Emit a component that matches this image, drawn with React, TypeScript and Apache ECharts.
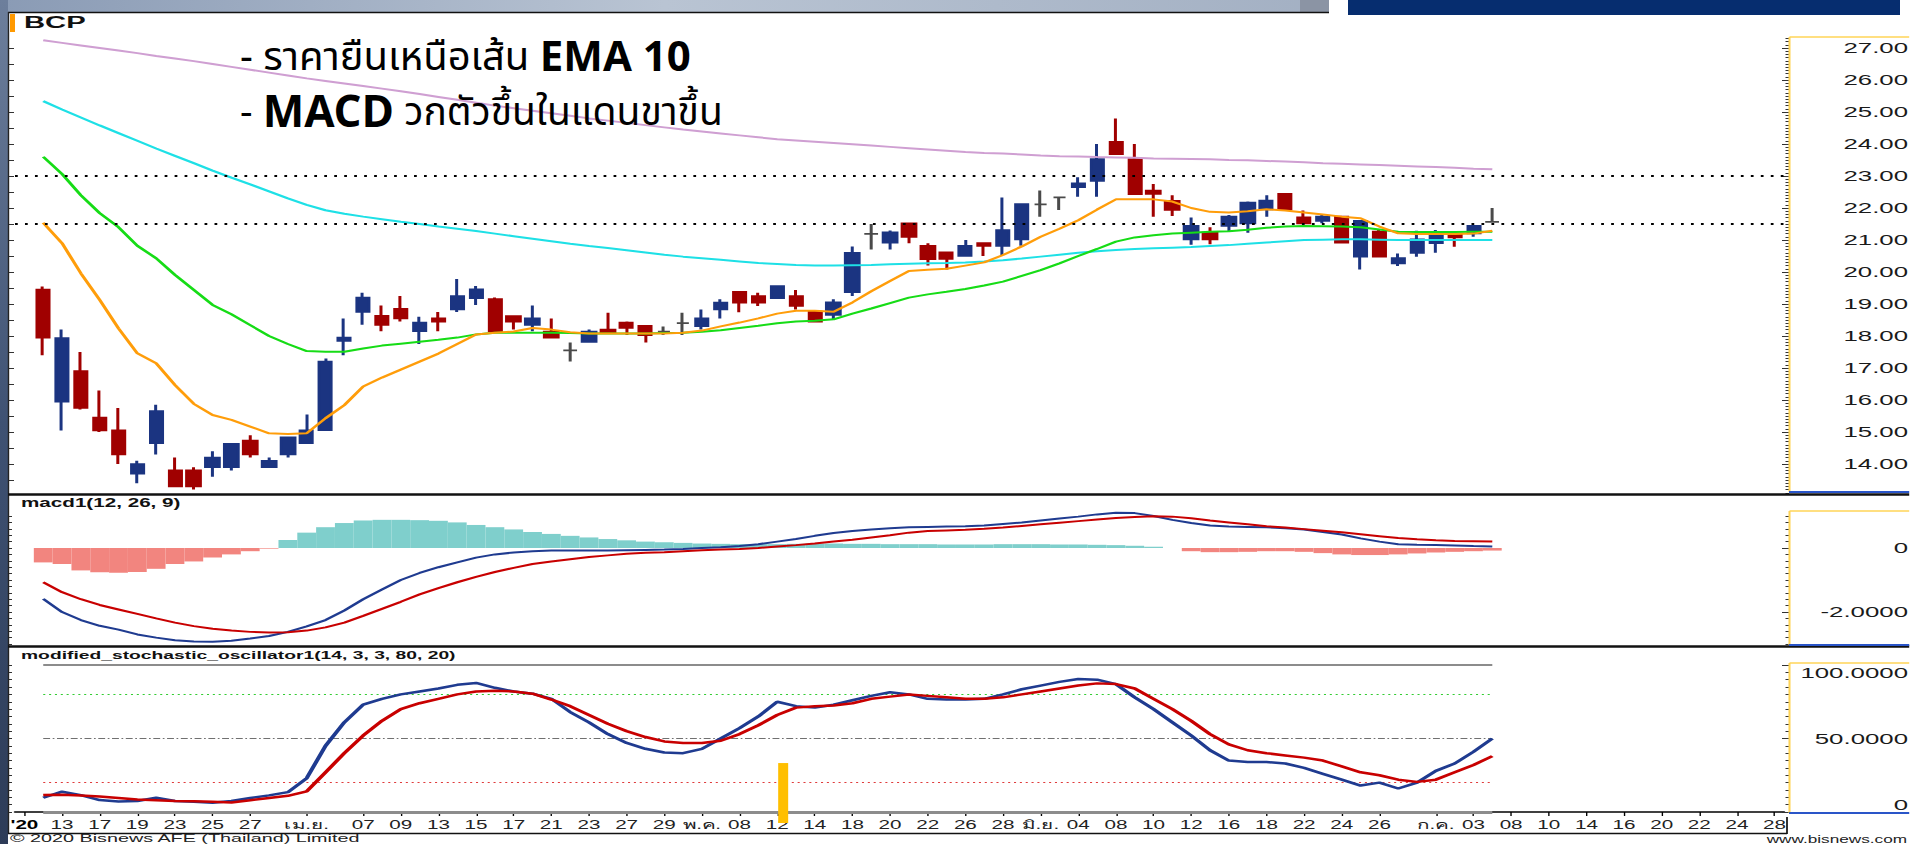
import React, { useEffect, useRef } from 'react';
import * as echarts from 'echarts';

// The reference screenshot is horizontally stretched; the chart is drawn narrow then stretched by S.
const S = 1.72;
const FULL_W = 1910;
const FULL_H = 844;
const CW = FULL_W / S;
const X = (v: number) => v / S;
const FONT = "'Liberation Sans', Arial, sans-serif";
const THAI_FONT = "'Noto Sans Thai', 'Noto Sans', 'Leelawadee UI', sans-serif";

// trading days on the axis (Mar 11 .. Jul 28, 2020)
const dates = [
  '03-11','03-12','03-13','03-16','03-17','03-18','03-19','03-20','03-23','03-24','03-25','03-26','03-27','03-30','03-31',
  '04-01','04-02','04-03','04-07','04-08','04-09','04-10','04-13','04-14','04-15','04-16','04-17','04-20','04-21','04-22','04-23','04-24','04-27','04-28','04-29','04-30',
  '05-05','05-07','05-08','05-11','05-12','05-13','05-14','05-15','05-18','05-19','05-20','05-21','05-22','05-25','05-26','05-27','05-28','05-29',
  '06-01','06-02','06-04','06-05','06-08','06-09','06-10','06-11','06-12','06-15','06-16','06-17','06-18','06-19','06-22','06-23','06-24','06-25','06-26','06-29','06-30',
  '07-01','07-02','07-03','07-07','07-08','07-09','07-10','07-13','07-14','07-15','07-16','07-17','07-20','07-21','07-22','07-23','07-24','07-27','07-28'
];
const xTickLabels = [
  "'20",'','13','','17','','19','','23','','25','','27','','',
  'เม.ย.','','','07','','09','','13','','15','','17','','21','','23','','27','','29','',
  'พ.ค.','','08','','12','','14','','18','','20','','22','','26','','28','',
  'มิ.ย.','','04','','08','','10','','12','','16','','18','','22','','24','','26','','',
  'ก.ค.','','03','','08','','10','','14','','16','','20','','22','','24','','28'
];

// [open, close, low, high] for Mar 12 .. Jul 7
const candles = [
  [19.45,17.95,17.4,19.55],[15.95,17.93,15.05,18.2],[16.9,15.75,15.7,17.5],[15.45,15.05,15.0,16.3],[15.05,14.3,14.0,15.75],
  [13.7,14.0,13.4,14.1],[14.65,15.65,14.3,15.85],[13.8,13.3,13.3,14.2],[13.8,13.3,13.2,13.9],[13.9,14.2,13.6,14.4],
  [13.9,14.63,13.8,14.65],[14.73,14.3,14.2,14.9],[13.9,14.1,13.9,14.2],[14.3,14.83,14.2,14.85],[14.65,15.05,14.65,15.55],
  [15.06,17.2,15.05,17.3],[17.85,17.95,17.4,18.55],[18.75,19.2,18.35,19.35],[18.63,18.35,18.15,18.95],[18.85,18.55,18.45,19.25],
  [18.15,18.42,17.75,18.6],[18.55,18.45,18.15,18.75],[18.83,19.25,18.75,19.78],[19.18,19.46,18.97,19.56],[19.15,18.15,18.13,19.2],
  [18.62,18.45,18.2,18.65],[18.35,18.55,18.15,18.95],[18.14,17.95,17.95,18.55],[17.55,17.55,17.2,17.8],[17.82,18.14,17.82,18.2],
  [18.2,18.12,18.1,18.73],[18.42,18.25,18.03,18.45],[18.32,18.03,17.8,18.33],[18.14,18.14,18.03,18.3],[18.4,18.4,18.03,18.73],
  [18.31,18.55,18.2,18.83],[18.83,19.04,18.55,19.15],[19.38,19.04,18.74,19.4],[19.25,19.04,18.94,19.35],[19.18,19.56,19.17,19.57],
  [19.25,18.94,18.83,19.44],[18.76,18.45,18.45,18.81],[18.66,19.05,18.53,19.15],[19.37,20.6,19.25,20.8],[21.19,21.19,20.7,21.5],
  [20.92,21.24,20.7,21.3],[21.52,21.1,20.9,21.53],[20.82,20.4,20.2,20.9],[20.61,20.41,20.08,20.62],[20.5,20.82,20.5,21.0],
  [20.9,20.82,20.5,20.92],[20.82,21.31,20.53,22.33],[21.02,22.12,20.82,22.13],[22.11,22.11,21.73,22.55],[22.33,22.33,21.94,22.34],
  [22.65,22.77,22.35,22.96],[22.85,23.53,22.35,24.0],[24.07,23.68,23.67,24.8],[23.53,22.43,22.42,24.0],[22.54,22.44,21.73,22.75],
  [22.22,21.94,21.75,22.4],[21.02,21.44,20.85,21.7],[21.23,21.02,20.87,21.4],[21.44,21.73,21.26,21.78],[21.52,22.17,21.23,22.2],
  [21.96,22.23,21.73,22.4],[22.44,21.96,21.95,22.45],[21.71,21.52,21.52,21.92],[21.6,21.73,21.52,21.8],[21.73,20.92,20.9,21.74],
  [20.48,21.6,20.08,21.61],[21.26,20.48,20.47,21.31],[20.27,20.43,20.19,20.58],[20.6,21.02,20.48,21.29],[20.9,21.19,20.6,21.31],
  [21.19,21.08,20.79,21.2],[21.21,21.44,21.1,21.45],[21.57,21.57,21.57,22.0]
];

const ema10 = [
  21.54,20.9,19.96,19.13,18.24,17.46,17.15,16.47,15.88,15.53,
  15.38,15.17,14.96,14.94,14.96,15.43,15.84,16.42,16.7,16.95,
  17.2,17.45,17.75,18.05,18.1,18.14,18.25,18.2,18.12,18.08,
  18.08,18.08,18.08,18.08,18.1,18.17,18.3,18.42,18.55,18.7,
  18.79,18.79,18.76,19.05,19.4,19.72,20.03,20.07,20.1,20.2,
  20.3,20.53,20.8,21.1,21.35,21.62,21.95,22.27,22.27,22.27,
  22.2,22.0,21.88,21.86,21.9,21.96,21.92,21.86,21.8,21.73,
  21.68,21.42,21.21,21.19,21.19,21.19,21.2,21.29
];
const ema25 = [
  23.6,23.06,22.4,21.84,21.4,20.82,20.43,19.91,19.44,18.97,
  18.68,18.34,18.0,17.75,17.53,17.51,17.51,17.61,17.7,17.76,
  17.82,17.88,17.95,18.05,18.1,18.1,18.1,18.1,18.09,18.08,
  18.08,18.08,18.08,18.09,18.1,18.13,18.18,18.25,18.32,18.4,
  18.45,18.48,18.52,18.7,18.86,19.03,19.2,19.3,19.38,19.47,
  19.58,19.7,19.88,20.06,20.27,20.5,20.72,20.95,21.08,21.15,
  21.2,21.23,21.26,21.27,21.32,21.38,21.42,21.44,21.43,21.42,
  21.4,21.33,21.26,21.25,21.25,21.25,21.26,21.26
];
const ema50 = [
  25.34,25.08,24.83,24.58,24.34,24.1,23.86,23.63,23.4,23.17,
  22.95,22.74,22.52,22.3,22.1,21.93,21.82,21.73,21.65,21.57,
  21.5,21.42,21.35,21.28,21.2,21.12,21.04,20.96,20.88,20.81,
  20.75,20.68,20.61,20.54,20.48,20.43,20.38,20.33,20.28,20.25,
  20.22,20.2,20.2,20.21,20.22,20.24,20.26,20.27,20.28,20.3,
  20.33,20.37,20.42,20.48,20.54,20.6,20.65,20.69,20.72,20.74,
  20.76,20.78,20.81,20.84,20.88,20.92,20.96,21.0,21.01,21.02,
  21.02,21.01,21.0,21.0,21.0,21.0,21.0,21.0
];
const ema200 = [
  27.24,27.16,27.08,27.0,26.92,26.84,26.75,26.67,26.59,26.5,
  26.41,26.32,26.23,26.14,26.05,25.97,25.89,25.81,25.73,25.65,
  25.56,25.47,25.38,25.29,25.2,25.12,25.04,24.96,24.88,24.8,
  24.73,24.66,24.59,24.52,24.45,24.39,24.33,24.27,24.21,24.15,
  24.11,24.07,24.03,23.99,23.95,23.91,23.87,23.83,23.79,23.75,
  23.72,23.7,23.67,23.64,23.62,23.61,23.59,23.58,23.57,23.55,
  23.54,23.53,23.52,23.5,23.49,23.47,23.45,23.43,23.4,23.38,
  23.36,23.34,23.32,23.3,23.28,23.26,23.23,23.21
];
const priceRefLines = [23, 21.5];

const macdLine = [
  -1.59,-2.0,-2.25,-2.43,-2.55,-2.7,-2.8,-2.88,-2.92,-2.93,
  -2.9,-2.83,-2.75,-2.62,-2.45,-2.25,-1.95,-1.6,-1.3,-1.0,
  -0.78,-0.6,-0.45,-0.3,-0.2,-0.14,-0.1,-0.08,-0.08,-0.08,
  -0.08,-0.07,-0.06,-0.05,-0.03,0.0,0.02,0.06,0.12,0.2,
  0.28,0.38,0.47,0.53,0.58,0.62,0.65,0.66,0.67,0.68,
  0.7,0.75,0.8,0.86,0.92,0.98,1.05,1.1,1.09,1.0,
  0.88,0.78,0.7,0.67,0.66,0.65,0.62,0.58,0.5,0.42,
  0.3,0.2,0.12,0.1,0.09,0.08,0.06,0.05
];
const signalLine = [
  -1.07,-1.38,-1.6,-1.78,-1.92,-2.06,-2.2,-2.33,-2.44,-2.52,
  -2.58,-2.62,-2.64,-2.63,-2.58,-2.48,-2.33,-2.12,-1.9,-1.68,
  -1.45,-1.25,-1.07,-0.9,-0.75,-0.62,-0.5,-0.42,-0.35,-0.28,
  -0.23,-0.18,-0.15,-0.13,-0.1,-0.07,-0.05,-0.03,0.0,0.05,
  0.09,0.14,0.2,0.26,0.33,0.4,0.48,0.53,0.55,0.57,
  0.6,0.64,0.69,0.74,0.79,0.84,0.89,0.94,0.97,0.99,
  0.98,0.93,0.86,0.8,0.74,0.68,0.64,0.59,0.54,0.49,
  0.43,0.37,0.31,0.27,0.24,0.22,0.21,0.2
];
const macdHist = [
  -0.45,-0.5,-0.7,-0.76,-0.77,-0.75,-0.65,-0.5,-0.42,-0.3,
  -0.2,-0.1,-0.02,0.25,0.48,0.65,0.78,0.86,0.88,0.88,
  0.87,0.85,0.8,0.72,0.65,0.58,0.5,0.44,0.38,0.33,
  0.28,0.24,0.2,0.18,0.16,0.14,0.13,0.12,0.12,0.12,
  0.13,0.14,0.14,0.13,0.13,0.12,0.12,0.12,0.11,0.11,
  0.11,0.12,0.12,0.12,0.11,0.11,0.1,0.09,0.07,0.04,
  0.0,-0.1,-0.13,-0.13,-0.12,-0.1,-0.1,-0.12,-0.16,-0.2,
  -0.22,-0.22,-0.2,-0.17,-0.14,-0.12,-0.1,-0.08
];

const stochK = [
  9.7,13.8,11.5,8.1,7.2,7.5,9.7,7.5,7,6.3,
  7.5,9.5,11.3,13.5,23,45,61,73,77,80,
  82,84,86.5,87.8,84.5,82,80.5,77,68,61,
  53,47,43,40.5,40,43,50,57,65,75,
  72,71,73,76,79,81.5,80,77,76.5,76.5,
  77,80,83.5,86,88.5,90.5,90,87,78,70,
  61,52,42,35,34,34,33,30,26,22,
  18,20,16,20,28,33,41,50
];
const stochD = [
  11.5,11.8,11.2,10.5,9.5,8.5,8,7.5,7.3,7,
  6.5,8,9.5,11,14,27,40,52,62,70,
  74,77,80,82,82.5,82,80.5,76.5,72,66,
  60,55,51,48,47,47,48.5,53,59,66,
  71,72,72.5,74,77,78.5,80,79,78,77,
  77,78,80,82,84,86,87.5,87,84,77,
  70,62,53,46,42,40,38.5,37,35,31,
  27,25,22,20.5,22,27,32,38
];
const stochLevels = [
  { value: 100, color: '#8c8c8c', type: 'solid', width: 2 },
  { value: 80, color: '#33cc33', type: [1.2, 2.2], width: 1 },
  { value: 50, color: '#707070', type: [4, 1.5, 1, 1.5], width: 1 },
  { value: 20, color: '#e03c3c', type: [1.2, 2.2], width: 1 },
  { value: 0, color: '#8c8c8c', type: 'solid', width: 3 }
];
const markerDate = '05-12';
const markerRange = [33.3, -7.5];

const priceLabelValues = [14,15,16,17,18,19,20,21,22,23,24,25,26,27];
const macdLabelValues = [0, -2];
const stochLabelValues = [0, 50, 100];

function steps(a: number, b: number, step: number) {
  const out: number[] = [];
  const n = Math.round((b - a) / step);
  for (let i = 0; i <= n; i++) out.push(Math.round((a + i * step) * 1000) / 1000);
  return out;
}

const dataDates = dates.slice(1, 1 + candles.length);
const pair = (arr: number[]) => dataDates.map((d, i) => [d, arr[i]]);

function buildOption() {
  const gridLeft = X(15);
  const gridWidth = X(1769);
  const grids = [
    { left: gridLeft, width: gridWidth, top: 37, height: 457 },
    { left: gridLeft, width: gridWidth, top: 511, height: 134 },
    { left: gridLeft, width: gridWidth, top: 665, height: 147 }
  ].map((g) => ({ ...g, containLabel: false, outerBoundsMode: 'none', show: false }));

  const ranges = [
    { min: 13.0625, max: 27.34375 },
    { min: -3.03, max: 1.156 },
    { min: 0, max: 100 }
  ];

  const xAxis = [0, 1, 2].map((gi) => {
    const base: any = {
      type: 'category', gridIndex: gi, data: dates, boundaryGap: true,
      splitLine: { show: false }
    };
    if (gi < 2) return { ...base, show: false };
    return {
      ...base,
      position: 'bottom',
      offset: 5,
      axisLine: { show: true, lineStyle: { color: '#000', width: 1.5 } },
      axisTick: {
        show: true, alignWithLabel: true, length: 4,
        interval: (i: number) => xTickLabels[i] !== '',
        lineStyle: { color: '#000', width: 0.8 }
      },
      axisLabel: {
        interval: 0, margin: 2, fontSize: 12, color: '#222', fontFamily: FONT,
        formatter: (_v: string, i: number) => (i === 0 ? '{b|' + xTickLabels[i] + '}' : xTickLabels[i]),
        rich: { b: { fontWeight: 'bold', fontSize: 12, color: '#000', fontFamily: FONT } }
      }
    };
  });

  const rightLabelAxis = (gi: number, values: number[], fmt: (v: number) => string, extra: any = {}) => ({
    type: 'value', gridIndex: gi, position: 'right', offset: X(5), ...ranges[gi],
    axisLine: { show: false }, splitLine: { show: false },
    axisTick: { show: true, inside: true, length: X(7), customValues: values, lineStyle: { color: '#333', width: 1 } },
    axisLabel: {
      show: true, customValues: values, formatter: fmt, align: 'right', margin: X(119),
      fontSize: 15, color: '#1a1a1a', fontFamily: FONT, ...extra
    }
  });
  const tickAxis = (gi: number, values: number[], pos: 'left' | 'right', len: number) => ({
    type: 'value', gridIndex: gi, position: pos, offset: pos === 'right' ? X(5) : X(7), ...ranges[gi],
    axisLine: { show: false }, splitLine: { show: false },
    axisTick: { show: true, inside: true, length: X(len), customValues: values, lineStyle: { color: '#333', width: 1 } },
    axisLabel: { show: false }
  });

  const yAxis = [
    rightLabelAxis(0, priceLabelValues, (v) => v.toFixed(2)),
    tickAxis(0, steps(13.1, 27.3, 0.1), 'right', 3.5),
    tickAxis(0, steps(13.5, 27, 0.5), 'left', 6),
    rightLabelAxis(1, macdLabelValues, (v) => (v === 0 ? '0' : v.toFixed(4))),
    tickAxis(1, steps(-3, 1, 0.2), 'right', 3.5),
    tickAxis(1, steps(-3, 1, 0.2), 'left', 4),
    rightLabelAxis(2, stochLabelValues, (v) => (v === 0 ? '0' : v.toFixed(4)), {
      verticalAlignMinLabel: 'bottom', verticalAlignMaxLabel: 'top'
    }),
    tickAxis(2, steps(0, 100, 5), 'right', 3.5),
    tickAxis(2, steps(0, 100, 5), 'left', 4)
  ];

  const line = (name: string, arr: number[], color: string, xi: number, yi: number, width = 2, extra: any = {}) => ({
    type: 'line', name, xAxisIndex: xi, yAxisIndex: yi, data: pair(arr),
    symbol: 'none', showSymbol: false, smooth: false,
    lineStyle: { color, width }, itemStyle: { color }, z: 3, silent: true, ...extra
  });

  const series: any[] = [
    {
      type: 'candlestick', name: 'BCP', xAxisIndex: 0, yAxisIndex: 0,
      data: dataDates.map((d, i) => [d, ...candles[i]]),
      encode: { x: 0, y: [1, 2, 3, 4] },
      barWidth: X(13.5),
      itemStyle: {
        color: '#1b3481', color0: '#a00000', borderColor: '#1b3481', borderColor0: '#a00000',
        borderColorDoji: '#4a4a4a', borderWidth: X(3)
      },
      z: 2, silent: true
    },
    line('EMA200', ema200, '#cf9fd2', 0, 0),
    line('EMA50', ema50, '#1ee0e6', 0, 0),
    line('EMA25', ema25, '#16dc16', 0, 0, 2, {
      markLine: {
        silent: true, symbol: 'none', label: { show: false },
        lineStyle: { color: '#000', type: [1.6, 4.2], width: 2.2 },
        data: priceRefLines.map((v) => ({ yAxis: v }))
      }
    }),
    line('EMA10', ema10, '#ff9d0a', 0, 0),
    {
      type: 'bar', name: 'hist', xAxisIndex: 1, yAxisIndex: 3, data: pair(macdHist),
      barWidth: '100%', barGap: '0%', silent: true,
      itemStyle: { color: (p: any) => (p.value[1] >= 0 ? '#7fcfcc' : '#f2857f') }
    },
    line('MACD', macdLine, '#1f3b90', 1, 3, 2),
    line('Signal', signalLine, '#c80000', 1, 3, 2),
    line('%K', stochK, '#1f3b90', 2, 6, 2.5, {
      markLine: {
        silent: true, symbol: 'none', label: { show: false }, z: 1,
        data: stochLevels.map((l) => [
          { coord: [dataDates[0], l.value], lineStyle: { color: l.color, type: l.type, width: l.width } },
          { coord: [dataDates[dataDates.length - 1], l.value] }
        ])
      }
    }),
    line('%D', stochD, '#c80000', 2, 6, 2.5),
    {
      type: 'custom', name: 'marker', xAxisIndex: 2, yAxisIndex: 6, silent: true, clip: false, z: 5,
      data: [[markerDate, markerRange[0], markerRange[1]]],
      encode: { x: 0, y: [1, 2] },
      renderItem: (params: any, api: any) => {
        const top = api.coord([api.value(0), api.value(1)]);
        const bot = api.coord([api.value(0), api.value(2)]);
        const w = X(10);
        return {
          type: 'rect',
          shape: { x: top[0] - w / 2 + X(6), y: top[1], width: w, height: bot[1] - top[1] },
          style: { fill: '#ffbf00' }
        };
      }
    }
  ];

  const yellow = '#ffd457';
  const blue = '#2a55c8';
  const panes = [[37, 492], [511, 645], [663, 813]];
  const graphic: any[] = [
    { type: 'rect', shape: { x: 0, y: 0, width: X(1329), height: 12 }, z: 10,
      style: { fill: new echarts.graphic.LinearGradient(0, 0, 1, 0, [
        { offset: 0, color: '#8a9bb5' }, { offset: 0.5, color: '#b9c4d3' }, { offset: 1, color: '#a3b0c3' }]) } },
    { type: 'rect', shape: { x: 0, y: 0, width: X(8), height: FULL_H }, z: 10,
      style: { fill: new echarts.graphic.LinearGradient(0, 0, 0, 1, [
        { offset: 0, color: '#6d7f9c' }, { offset: 0.5, color: '#3f5273' }, { offset: 1, color: '#2d3c58' }]) } },
    { type: 'rect', shape: { x: X(1300), y: 0, width: X(29), height: 13 }, z: 10, style: { fill: '#8b94a4' } },
    { type: 'rect', shape: { x: X(1348), y: 0, width: X(552), height: 15 }, z: 10, style: { fill: '#062d6f' } },
    { type: 'line', shape: { x1: X(8), y1: 12.5, x2: X(1329), y2: 12.5 }, z: 10, style: { stroke: '#111', lineWidth: 1.5 } },
    { type: 'line', shape: { x1: X(8.5), y1: 12, x2: X(8.5), y2: 834 }, z: 10, style: { stroke: '#222', lineWidth: 0.8 } },
    { type: 'line', shape: { x1: X(8), y1: 494.5, x2: X(1910), y2: 494.5 }, z: 10, style: { stroke: '#111', lineWidth: 2.5 } },
    { type: 'line', shape: { x1: X(8), y1: 646.5, x2: X(1910), y2: 646.5 }, z: 10, style: { stroke: '#111', lineWidth: 2.5 } },
    { type: 'line', shape: { x1: X(8), y1: 833.5, x2: X(1787), y2: 833.5 }, z: 10, style: { stroke: '#111', lineWidth: 1.5 } },
    { type: 'line', shape: { x1: X(1787), y1: 817, x2: X(1787), y2: 834 }, z: 10, style: { stroke: '#111', lineWidth: 1 } },
    ...panes.flatMap(([t, b]) => [
      { type: 'line', shape: { x1: X(1789.5), y1: t, x2: X(1910), y2: t }, z: 10, style: { stroke: yellow, lineWidth: 1.5 } },
      { type: 'line', shape: { x1: X(1789.5), y1: t, x2: X(1789.5), y2: b }, z: 10, style: { stroke: yellow, lineWidth: 1.2 } },
      { type: 'line', shape: { x1: X(1789), y1: b, x2: X(1910), y2: b }, z: 10, style: { stroke: blue, lineWidth: 2 } }
    ]),
    { type: 'rect', shape: { x: X(10), y: 14, width: X(5), height: 18 }, z: 11, style: { fill: '#ff9900' } },
    { type: 'text', x: X(24), y: 22, z: 11,
      style: { text: 'BCP', font: `bold 17px ${FONT}`, fill: '#111', verticalAlign: 'middle' } },
    { type: 'text', x: X(21), y: 503, z: 11,
      style: { text: 'macd1(12, 26, 9)', font: `bold 12px ${FONT}`, fill: '#111', verticalAlign: 'middle' } },
    { type: 'text', x: X(21), y: 655, z: 11,
      style: { text: 'modified_stochastic_oscillator1(14, 3, 3, 80, 20)', font: `bold 11.2px ${FONT}`, fill: '#111', verticalAlign: 'middle' } },
    { type: 'text', x: X(10), y: 844, z: 11,
      style: { text: '© 2020 Bisnews AFE (Thailand) Limited', font: `11.5px ${FONT}`, fill: '#222', verticalAlign: 'bottom' } },
    { type: 'text', x: X(1907), y: 844, z: 11,
      style: { text: 'www.bisnews.com', font: `10px ${FONT}`, fill: '#222', verticalAlign: 'bottom', align: 'right' } },
    { type: 'text', x: X(240), y: 58, z: 12, scaleX: 1 / S,
      style: {
        text: '{n|- ราคายืนเหนือเส้น }{b|EMA 10}', verticalAlign: 'middle', fill: '#000',
        rich: {
          n: { fontSize: 40, fontFamily: THAI_FONT, fill: '#000', fontWeight: 'normal' },
          b: { fontSize: 42, fontFamily: THAI_FONT, fill: '#000', fontWeight: 'bold' }
        }
      } },
    { type: 'text', x: X(240), y: 113, z: 12, scaleX: 1 / S,
      style: {
        text: '{n|- }{b|MACD}{n| วกตัวขึ้นในแดนขาขึ้น}', verticalAlign: 'middle', fill: '#000',
        rich: {
          n: { fontSize: 39, fontFamily: THAI_FONT, fill: '#000', fontWeight: 'normal' },
          b: { fontSize: 44, fontFamily: THAI_FONT, fill: '#000', fontWeight: 'bold' }
        }
      } }
  ];

  return {
    animation: false,
    backgroundColor: '#ffffff',
    grid: grids,
    xAxis,
    yAxis,
    series,
    graphic
  };
}

export default function App() {
  const ref = useRef<HTMLDivElement>(null);
  useEffect(() => {
    document.body.style.margin = '0';
    document.body.style.overflow = 'hidden';
    if (!ref.current) return;
    const chart = echarts.init(ref.current, undefined, { renderer: 'svg' });
    chart.setOption(buildOption() as any);
    return () => chart.dispose();
  }, []);
  return (
    <div style={{ width: FULL_W, height: FULL_H, overflow: 'hidden', position: 'relative' }}>
      <div
        ref={ref}
        style={{ width: CW, height: FULL_H, transform: `scaleX(${S})`, transformOrigin: '0 0', position: 'absolute', left: 0, top: 0 }}
      />
    </div>
  );
}
